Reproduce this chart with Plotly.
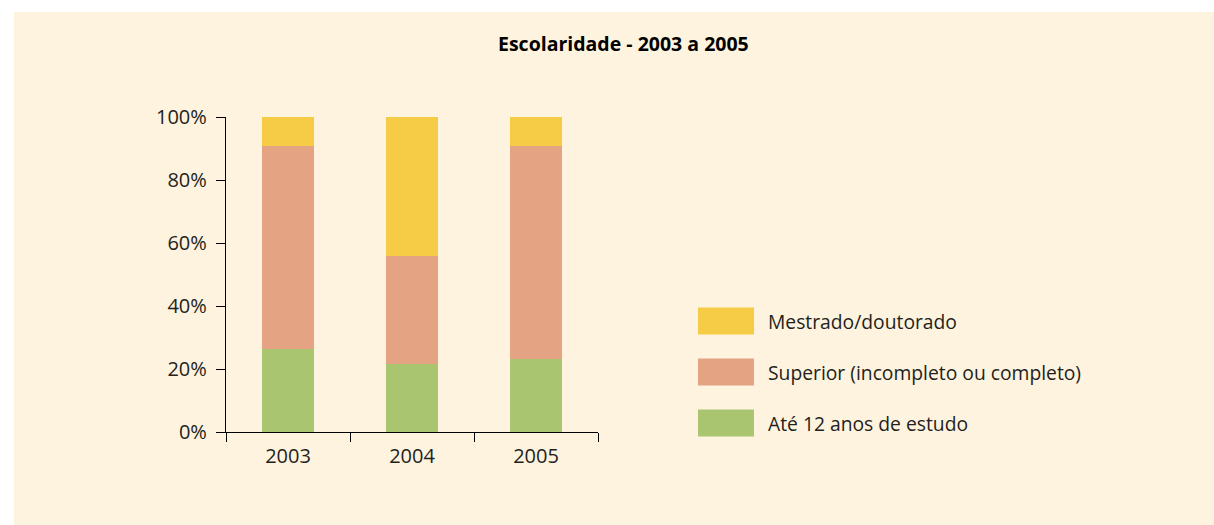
import plotly.graph_objects as go

years = ["2003", "2004", "2005"]
ate12 = [26.3, 21.7, 23.2]
superior = [64.4, 34.2, 67.5]
mestrado = [9.3, 44.1, 9.3]

names = ["Até 12 anos de estudo", "Superior (incompleto ou completo)", "Mestrado/doutorado"]
colors = ["#AAC570", "#E4A383", "#F6CB45"]
series = [ate12, superior, mestrado]

title_text = "Escolaridade - 2003 a 2005"
y_ticks = [0, 20, 40, 60, 80, 100]
y_tick_labels = ["0%", "20%", "40%", "60%", "80%", "100%"]

W, H = 1214, 525
# plot area in page pixels
PL, PR, PT, PB = 226, 598, 117, 432
ML, MR, MT, MB = PL, W - PR, PT, H - PB
PW = PR - PL
PH = PB - PT

def px_x(p):
    return (p - PL) / PW

def px_y(p):
    return (PB - p) / PH

FONT = "Open Sans, Noto Sans, sans-serif"
TXT = "#231F20"

fig = go.Figure()
for name, col, vals in zip(names, colors, series):
    fig.add_trace(go.Bar(x=years, y=vals, name=name, marker=dict(color=col, line=dict(width=0)),
                         width=0.42, showlegend=False))

shapes = [dict(type="rect", xref="paper", yref="paper", layer="below",
               x0=px_x(14), x1=px_x(1230), y0=px_y(540), y1=px_y(12),
               fillcolor="#FEF3DE", line=dict(width=0))]
annotations = [dict(text="<b>" + title_text + "</b>", xref="paper", yref="paper",
                    x=px_x(623), y=px_y(44), xanchor="center", yanchor="middle",
                    showarrow=False, font=dict(family=FONT, size=19.5, color="#000000"))]

# custom legend (top to bottom: reversed order of stacking)
row_centers = [321, 372, 423]
for (name, col), c in zip(list(zip(names, colors))[::-1], row_centers):
    shapes.append(dict(type="rect", xref="paper", yref="paper",
                       x0=px_x(698), x1=px_x(754), y0=px_y(c + 13.5), y1=px_y(c - 13.5),
                       fillcolor=col, line=dict(width=0)))
    annotations.append(dict(text=name, xref="paper", yref="paper", x=px_x(766), y=px_y(c),
                            xanchor="left", yanchor="middle", showarrow=False,
                            font=dict(family=FONT, size=19.3, color=TXT)))

fig.update_layout(
    width=W, height=H,
    margin=dict(l=ML, r=MR, t=MT, b=MB, pad=0),
    barmode="stack",
    paper_bgcolor="white",
    plot_bgcolor="rgba(0,0,0,0)",
    font=dict(family=FONT, size=20, color=TXT),
    shapes=shapes,
    annotations=annotations,
    showlegend=False,
    xaxis=dict(type="category", range=[-0.5, 2.5], showline=True, linecolor="#000000", linewidth=1.3,
               ticks="outside", ticklen=9, tickcolor="#000000", tickwidth=1.3, tickson="boundaries",
               showgrid=False, zeroline=False, ticklabelstandoff=6),
    yaxis=dict(range=[0, 100], tickvals=y_ticks, ticktext=y_tick_labels, showline=True,
               linecolor="#000000", linewidth=1.3, ticks="outside", ticklen=9, tickcolor="#000000",
               tickwidth=1.3, showgrid=False, zeroline=False, ticklabelstandoff=5),
)

fig.write_html("out.html", config={"displayModeBar": False},
               post_script="document.body.style.margin='0';document.body.style.overflow='hidden';")
